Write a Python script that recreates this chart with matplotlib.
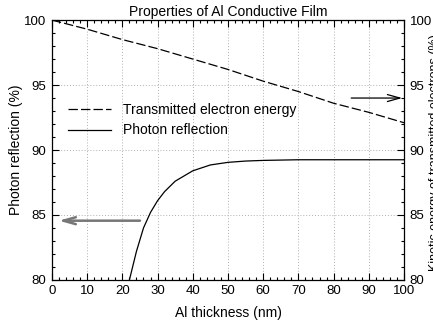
import numpy as np
import matplotlib
matplotlib.use("Agg")
import matplotlib.pyplot as plt
from matplotlib.ticker import MultipleLocator

plt.rcParams['font.family'] = ['Liberation Sans', 'DejaVu Sans']
plt.rcParams['font.size'] = 10

# data
thick_e = [0, 10, 20, 30, 40, 50, 60, 70, 80, 90, 100]
energy = [100.0, 99.3, 98.5, 97.8, 97.0, 96.2, 95.3, 94.5, 93.6, 92.9, 92.1]

thick_r = [22, 24, 26, 28, 30, 32, 35, 40, 45, 50, 55, 60, 70, 80, 90, 100]
reflect = [80.0, 82.2, 84.0, 85.2, 86.1, 86.8, 87.6, 88.4, 88.85, 89.05,
           89.15, 89.2, 89.25, 89.25, 89.25, 89.25]

fig = plt.figure(figsize=(4.33, 3.24), dpi=100)
ax = fig.add_axes([0.120, 0.136, 0.813, 0.802])

ax.plot(thick_e, energy, color='black', lw=0.9, dashes=(7.5, 2.5),
        label='Transmitted electron energy')
ax.plot(thick_r, reflect, color='black', lw=0.9, label='Photon reflection')

ax.set_xlim(0, 100)
ax.set_ylim(80, 100)
ax.xaxis.set_major_locator(MultipleLocator(10))
ax.xaxis.set_minor_locator(MultipleLocator(2))
ax.yaxis.set_major_locator(MultipleLocator(5))
ax.yaxis.set_minor_locator(MultipleLocator(1))
ax.tick_params(which='both', direction='in', top=True, right=True,
               labelright=True, width=0.8, labelsize=9.5)
ax.tick_params(which='major', length=5, pad=4)
ax.tick_params(which='minor', length=2.5)
ax.grid(True, which='major', color='#b0b0b0', ls=(0, (1, 2)), lw=0.7)
for s in ax.spines.values():
    s.set_linewidth(0.9)

ax.set_title('Properties of Al Conductive Film', fontsize=10, pad=3)
ax.set_xlabel('Al thickness (nm)', labelpad=6)
ax.set_ylabel('Photon reflection (%)', labelpad=1)
# right-hand label, cut off at the figure edge as in the original
fig.text(0.991, 0.53, 'Kinetic energy of transmitted electrons (%)',
         rotation=90, ha='left', va='center', fontsize=9)

# arrows pointing to the respective axes
ax.annotate('', xy=(1.9, 84.56), xytext=(25, 84.56),
            arrowprops=dict(arrowstyle='->,head_length=0.9,head_width=0.25',
                            color='#777777', lw=1.8, shrinkA=0, shrinkB=0))
ax.annotate('', xy=(99.5, 94.0), xytext=(85, 94.0),
            arrowprops=dict(arrowstyle='->,head_length=0.9,head_width=0.25',
                            color='black', lw=0.9, shrinkA=0, shrinkB=0))

ax.legend(loc='upper left', bbox_to_anchor=(0.045, 0.68), frameon=False,
          borderpad=0, borderaxespad=0, handlelength=3.1, handletextpad=0.9,
          labelspacing=0.45)

fig.savefig('out.png', dpi=100)
